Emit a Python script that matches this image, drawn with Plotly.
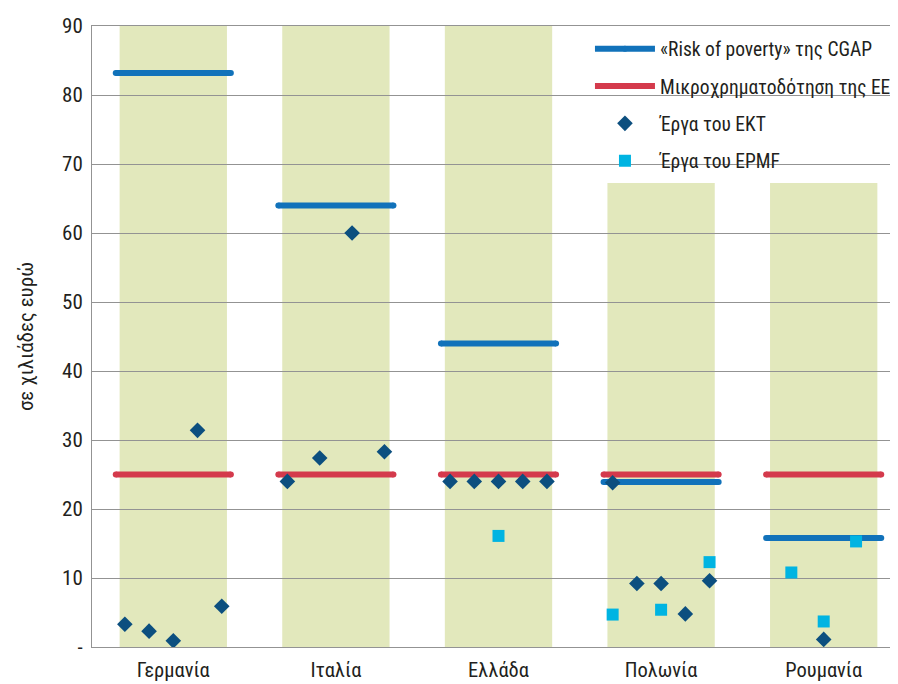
import plotly.graph_objects as go

# ---- data ----
countries = ["Γερμανία", "Ιταλία", "Ελλάδα", "Πολωνία", "Ρουμανία"]
cgap_risk = [83.2, 64.0, 44.0, 23.9, 15.8]          # «Risk of poverty» της CGAP
eu_micro = [25.0, 25.0, 25.0, 25.0, 25.0]           # Μικροχρηματοδότηση της ΕΕ

# ΕΚΤ projects: category index, slot, value
ekt_cat = [0, 0, 0, 0, 0, 1, 1, 1, 1, 2, 2, 2, 2, 2, 3, 3, 3, 3, 3, 4]
ekt_slot = [-2, -1, 0, 1, 2, -1.5, -0.5, 0.5, 1.5, -2, -1, 0, 1, 2, -2, -1, 0, 1, 2, 0]
ekt_val = [3.3, 2.3, 0.9, 31.4, 5.9, 24.0, 27.4, 60.0, 28.3, 24.0, 24.0, 24.0, 24.0, 24.0,
           23.8, 9.2, 9.2, 4.8, 9.6, 1.1]

# EPMF projects
epmf_cat = [2, 3, 3, 3, 4, 4, 4]
epmf_slot = [0, -2, 0, 2, -1, 0, 1]
epmf_val = [16.1, 4.7, 5.4, 12.3, 10.8, 3.7, 15.3]

y_ticks = [0, 10, 20, 30, 40, 50, 60, 70, 80, 90]
y_ticktext = ["-", "10", "20", "30", "40", "50", "60", "70", "80", "90"]

# ---- styling ----
FONT = "Roboto Condensed, Arial Narrow, DejaVu Sans Condensed, sans-serif"
BLUE = "#1172ba"
RED = "#d43a4c"
DIAM = "#0c4f7f"
SQ = "#00b4e2"
BAND = "rgba(197,209,121,0.5)"
GRID = "#939393"

step = {0: 0.149, 1: 0.199, 2: 0.149, 3: 0.149, 4: 0.199}
HALF_LINE = 0.354
HALF_BAND = 0.33


def seg(vals):
    xs, ys = [], []
    for i, v in enumerate(vals):
        xs += [i - HALF_LINE, i + HALF_LINE, None]
        ys += [v, v, None]
    return xs, ys


fig = go.Figure()

bx, by = seg(cgap_risk)
fig.add_trace(go.Scatter(x=bx, y=by, mode="lines+markers", name="«Risk of poverty» της CGAP",
                         line=dict(color=BLUE, width=6), marker=dict(size=6, color=BLUE),
                         legendgroup="a"))
rx, ry = seg(eu_micro)
fig.add_trace(go.Scatter(x=rx, y=ry, mode="lines+markers", name="Μικροχρηματοδότηση της ΕΕ",
                         line=dict(color=RED, width=6), marker=dict(size=6, color=RED),
                         legendgroup="b"))

fig.add_trace(go.Scatter(
    x=[c + s * step[c] for c, s in zip(ekt_cat, ekt_slot)], y=ekt_val,
    mode="markers", name="Έργα του ΕΚΤ", legendgroup="c",
    marker=dict(symbol="diamond", size=12, color=DIAM, line=dict(width=0))))
fig.add_trace(go.Scatter(
    x=[c + s * step[c] for c, s in zip(epmf_cat, epmf_slot)], y=epmf_val,
    mode="markers", name="Έργα του EPMF", legendgroup="d",
    marker=dict(symbol="square", size=12, color=SQ, line=dict(width=0))))

# background bands per category
for i in range(len(countries)):
    fig.add_shape(type="rect", xref="x", yref="paper", x0=i - HALF_BAND, x1=i + HALF_BAND,
                  y0=0, y1=1, fillcolor=BAND, line=dict(width=0), layer="below")

# white legend area covering bands and grid
fig.add_shape(type="rect", xref="paper", yref="paper", x0=0.594, x1=1.0, y0=0.747, y1=1.0,
              fillcolor="white", line=dict(width=0), layer="between")

fig.update_layout(
    width=898, height=684,
    margin=dict(l=84, r=1, t=18, b=45),
    paper_bgcolor="white", plot_bgcolor="white",
    font=dict(family=FONT, size=20, color="#231f20"),
    showlegend=True,
    legend=dict(x=0.6125, y=0.9944, xanchor="left", yanchor="top",
                bgcolor="rgba(0,0,0,0)", font=dict(size=19.5), itemwidth=60,
                tracegroupgap=9, traceorder="grouped"),
    xaxis=dict(range=[-0.5, 4.5], tickvals=list(range(len(countries))), ticktext=countries,
               showgrid=False, zeroline=False, showline=True, mirror=True, automargin=False,
               linecolor=GRID, linewidth=1, ticks="", tickfont=dict(size=20.5),
               ticklabelstandoff=4),
    yaxis=dict(range=[0, 90], tickvals=y_ticks, ticktext=y_ticktext, automargin=False,
               showgrid=True, gridcolor=GRID, gridwidth=1, zeroline=False,
               showline=True, linecolor=GRID, linewidth=1, ticks="",
               tickfont=dict(size=21), ticklabelstandoff=4,
               title=dict(text="σε χιλιάδες ευρώ", font=dict(size=21), standoff=22)),
)

fig.write_html("out.html")
